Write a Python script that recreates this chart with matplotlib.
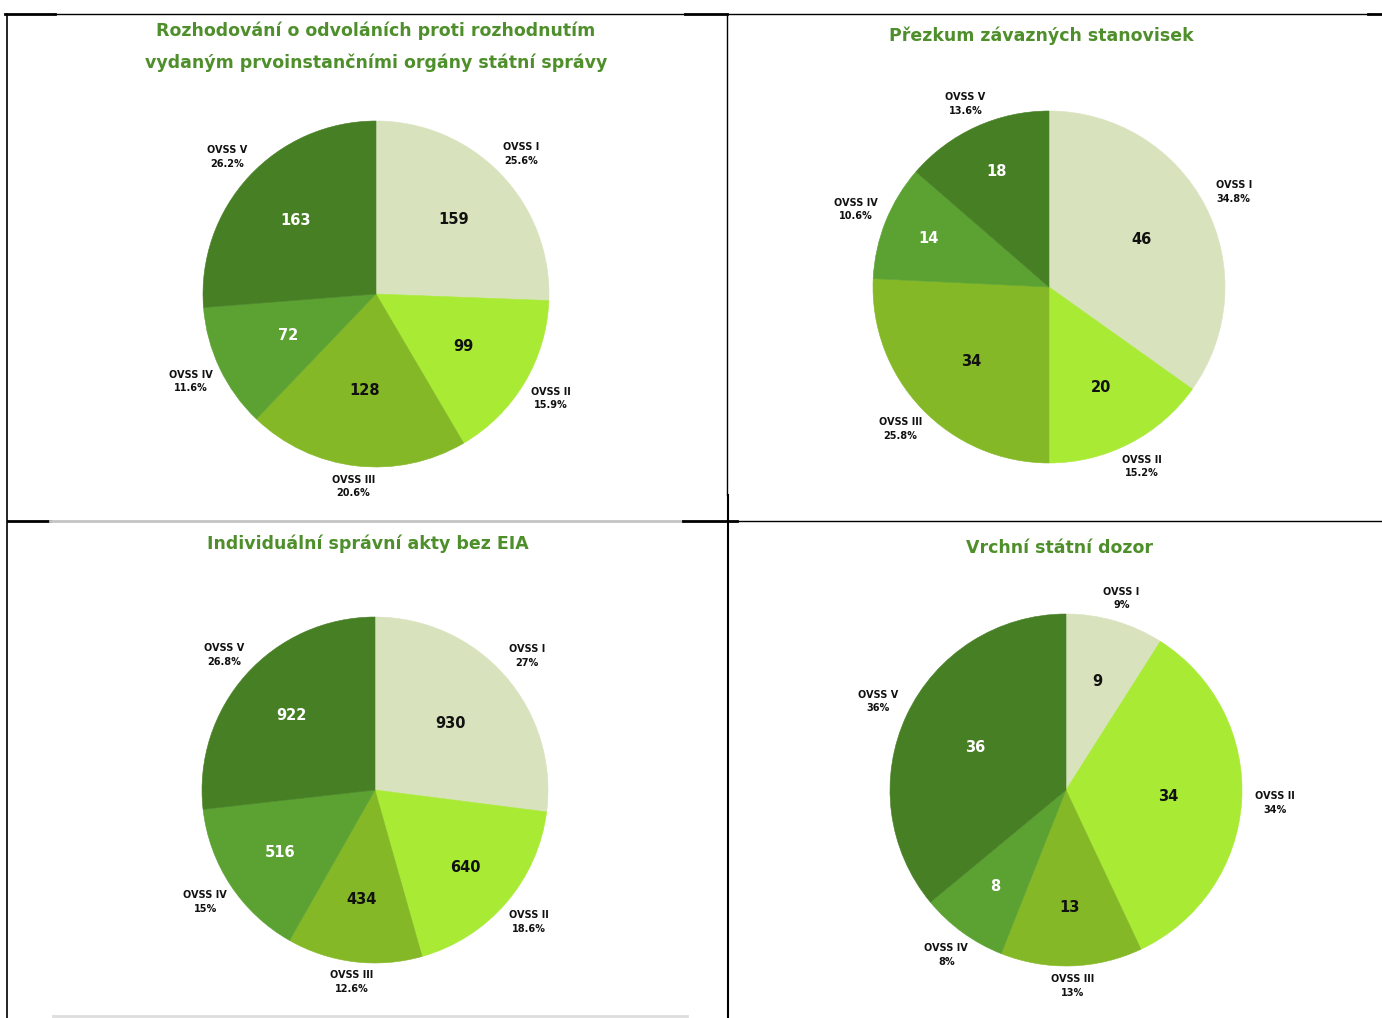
import matplotlib
matplotlib.use("Agg")
import matplotlib.pyplot as plt
from matplotlib.lines import Line2D
import numpy as np

W, H = 1382, 1018

categories = ["OVSS I", "OVSS II", "OVSS III", "OVSS IV", "OVSS V"]

title1 = "Rozhodování o odvoláních proti rozhodnutím\nvydaným prvoinstančními orgány státní správy"
values1 = [159, 99, 128, 72, 163]
pct1 = ["25.6%", "15.9%", "20.6%", "11.6%", "26.2%"]

title2 = "Přezkum závazných stanovisek"
values2 = [46, 20, 34, 14, 18]
pct2 = ["34.8%", "15.2%", "25.8%", "10.6%", "13.6%"]

title3 = "Individuální správní akty bez EIA"
values3 = [930, 640, 434, 516, 922]
pct3 = ["27%", "18.6%", "12.6%", "15%", "26.8%"]

title4 = "Vrchní státní dozor"
values4 = [9, 34, 13, 8, 36]
pct4 = ["9%", "34%", "13%", "8%", "36%"]

# styling
colors = ["#d8e3bd", "#a8ea34", "#84b826", "#5ba233", "#477f25"]
value_text_colors = ["#111111", "#111111", "#111111", "#ffffff", "#ffffff"]
title_color = "#4e8f2b"
value_radii1 = [0.62, 0.59, 0.56, 0.56, 0.63]
value_radii2 = [0.59, 0.64, 0.61, 0.74, 0.72]
value_radii3 = [0.58, 0.69, 0.64, 0.66, 0.65]
value_radii4 = [0.64, 0.58, 0.67, 0.68, 0.57]

fig = plt.figure(figsize=(W / 100, H / 100), dpi=100)
fig.patch.set_facecolor("white")


def px_axes(cx, cy, r):
    return fig.add_axes([(cx - r) / W, 1 - (cy + r) / H, 2 * r / W, 2 * r / H])


def draw_pie(cx, cy, r, vals, pcts, vradii, title, tx, ty):
    ax = px_axes(cx, cy, r)
    wedges, _ = ax.pie(vals, colors=colors, startangle=90, counterclock=False,
                       radius=1.0, wedgeprops=dict(linewidth=0.4))
    for w in wedges:
        w.set_edgecolor(w.get_facecolor())
    ax.set_xlim(-1, 1)
    ax.set_ylim(-1, 1)
    ax.set_aspect("equal")
    ax.axis("off")
    total = sum(vals)
    start = 90.0
    for i, v in enumerate(vals):
        sweep = 360.0 * v / total
        mid = np.deg2rad(start - sweep / 2)
        start -= sweep
        vr = vradii[i]
        ax.text(vr * np.cos(mid), vr * np.sin(mid), str(v), ha="center", va="center",
                fontsize=10.5, fontweight="bold", color=value_text_colors[i],
                family="DejaVu Sans")
        lr = 1.11 + 0.08 * abs(np.cos(mid))
        ax.text(lr * np.cos(mid), lr * np.sin(mid), f"{categories[i]}\n{pcts[i]}",
                ha="center", va="center", fontsize=7, fontweight="bold",
                color="#111111", family="DejaVu Sans", linespacing=1.45)
    fig.text(tx / W, 1 - ty / H, title, ha="center", va="center", fontsize=12.5,
             fontweight="bold", color=title_color, family="DejaVu Sans", linespacing=1.9)


draw_pie(376, 294, 173, values1, pct1, value_radii1, title1, 376, 47)
draw_pie(1049, 287, 176, values2, pct2, value_radii2, title2, 1041, 36)
draw_pie(375, 790, 173, values3, pct3, value_radii3, title3, 368, 544)
draw_pie(1066, 790, 176, values4, pct4, value_radii4, title4, 1059, 548)


def hline(x0, x1, y, lw, color="black"):
    fig.add_artist(Line2D([x0 / W, x1 / W], [1 - y / H, 1 - y / H], lw=lw, color=color,
                          transform=fig.transFigure))


def vline(x, y0, y1, lw, color="black"):
    fig.add_artist(Line2D([x / W, x / W], [1 - y0 / H, 1 - y1 / H], lw=lw, color=color,
                          transform=fig.transFigure))


# table borders
hline(5, 55, 14, 2.0)
hline(55, 685, 14, 1.0)
hline(685, 727, 14, 2.0)
hline(727, 1368, 14, 1.0)
hline(1368, 1382, 14, 2.0)
vline(7, 14, 1018, 1.2)
vline(727, 14, 495, 1.0)
vline(728, 495, 1018, 1.5)
hline(8, 50, 521, 2.0)
hline(50, 683, 521, 2.0, "#c4c4c4")
hline(683, 737, 521, 2.0)
hline(737, 1382, 521, 1.0)
hline(53, 687, 1016, 2.0, "#dddddd")

fig.savefig("out.png", dpi=100, facecolor="white")
